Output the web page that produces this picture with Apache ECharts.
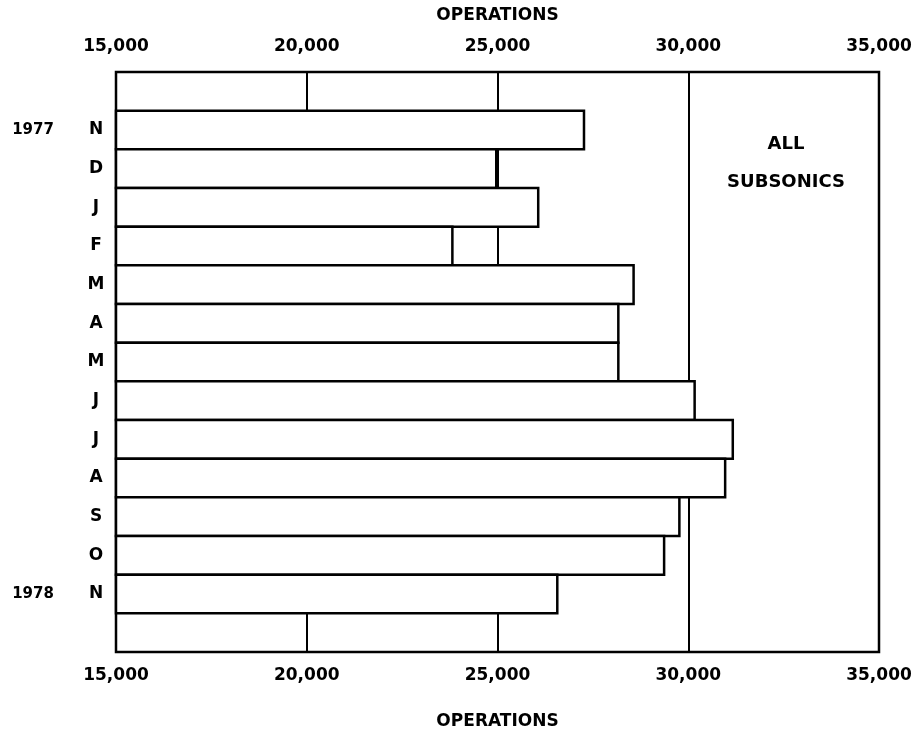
<!DOCTYPE html>
<html>
<head>
<meta charset="utf-8">
<script src="https://cdn.jsdelivr.net/npm/echarts@6/dist/echarts.min.js"></script>
<style>
html,body{margin:0;padding:0;background:#fff;}
#chart{width:917px;height:739px;}
</style>
</head>
<body>
<div id="chart"></div>
<script>
// ---- data ----
const months = ['N', 'D', 'J', 'F', 'M', 'A', 'M', 'J', 'J', 'A', 'S', 'O', 'N'];
const years = ['1977', '', '', '', '', '', '', '', '', '', '', '', '1978'];
const operations = [27300, 25000, 26100, 23850, 28600, 28200, 28200, 30200, 31200, 31000, 29800, 29400, 26600];
const axisMin = 15000, axisMax = 35000, axisStep = 5000;
const axisTitle = 'OPERATIONS';
const panelLines = ['ALL', 'SUBSONICS'];

// padded category slots (empty row above and below)
const monthSlots = [''].concat(months, ['']);
const yearSlots = [''].concat(years, ['']);
const valueSlots = ['-'].concat(operations, ['-']);

const FONT = 'DejaVu Sans';
const txt = (size) => ({ fontFamily: FONT, fontWeight: 'bold', fontSize: size, color: '#000' });
const fmt = (v) => v.toLocaleString('en-US');

const W = 917, H = 739;
const G = { left: 116, right: 38, top: 72, bottom: 87 };
const BORDER = 2.5;
const band = (H - G.top - G.bottom) / monthSlots.length;

const chart = echarts.init(document.getElementById('chart'), null, { renderer: 'canvas' });
chart.setOption({
  animation: false,
  backgroundColor: '#fff',
  grid: Object.assign({}, G, {
    show: true, borderColor: '#000', borderWidth: BORDER, backgroundColor: 'transparent'
  }),
  xAxis: [
    {
      type: 'value', position: 'bottom', min: axisMin, max: axisMax, interval: axisStep,
      name: axisTitle, nameLocation: 'middle', nameGap: 61, nameTextStyle: txt(17),
      axisLine: { show: false }, axisTick: { show: false },
      axisLabel: Object.assign(txt(17), { margin: 15, formatter: fmt }),
      splitLine: { show: true, lineStyle: { color: '#000', width: 2 } }
    },
    {
      type: 'value', position: 'top', min: axisMin, max: axisMax, interval: axisStep,
      name: axisTitle, nameLocation: 'middle', nameGap: 48, nameTextStyle: txt(17),
      axisLine: { show: false }, axisTick: { show: false },
      axisLabel: Object.assign(txt(17), { margin: 17, formatter: fmt }),
      splitLine: { show: false }
    }
  ],
  yAxis: [
    {
      type: 'category', data: monthSlots, inverse: true, position: 'left',
      axisLine: { show: false }, axisTick: { show: false }, splitLine: { show: false },
      axisLabel: Object.assign(txt(17), { margin: 20, align: 'center' })
    },
    {
      type: 'category', data: yearSlots, inverse: true, position: 'left', offset: 63,
      axisLine: { show: false }, axisTick: { show: false }, splitLine: { show: false },
      axisLabel: Object.assign(txt(15), { margin: 20, align: 'center' })
    }
  ],
  series: [
    {
      type: 'bar', xAxisIndex: 0, yAxisIndex: 0,
      data: valueSlots,
      barWidth: band + BORDER,
      barGap: '-100%',
      itemStyle: { color: '#fff', borderColor: '#000', borderWidth: BORDER },
      z: 3
    }
  ],
  graphic: [
    {
      type: 'text', x: 786, y: 144,
      style: { text: panelLines[0], fontFamily: FONT, fontWeight: 'bold', fontSize: 18,
        fill: '#000', align: 'center', verticalAlign: 'middle' }
    },
    {
      type: 'text', x: 786, y: 182,
      style: { text: panelLines[1], fontFamily: FONT, fontWeight: 'bold', fontSize: 18,
        fill: '#000', align: 'center', verticalAlign: 'middle' }
    }
  ]
});
</script>
</body>
</html>
